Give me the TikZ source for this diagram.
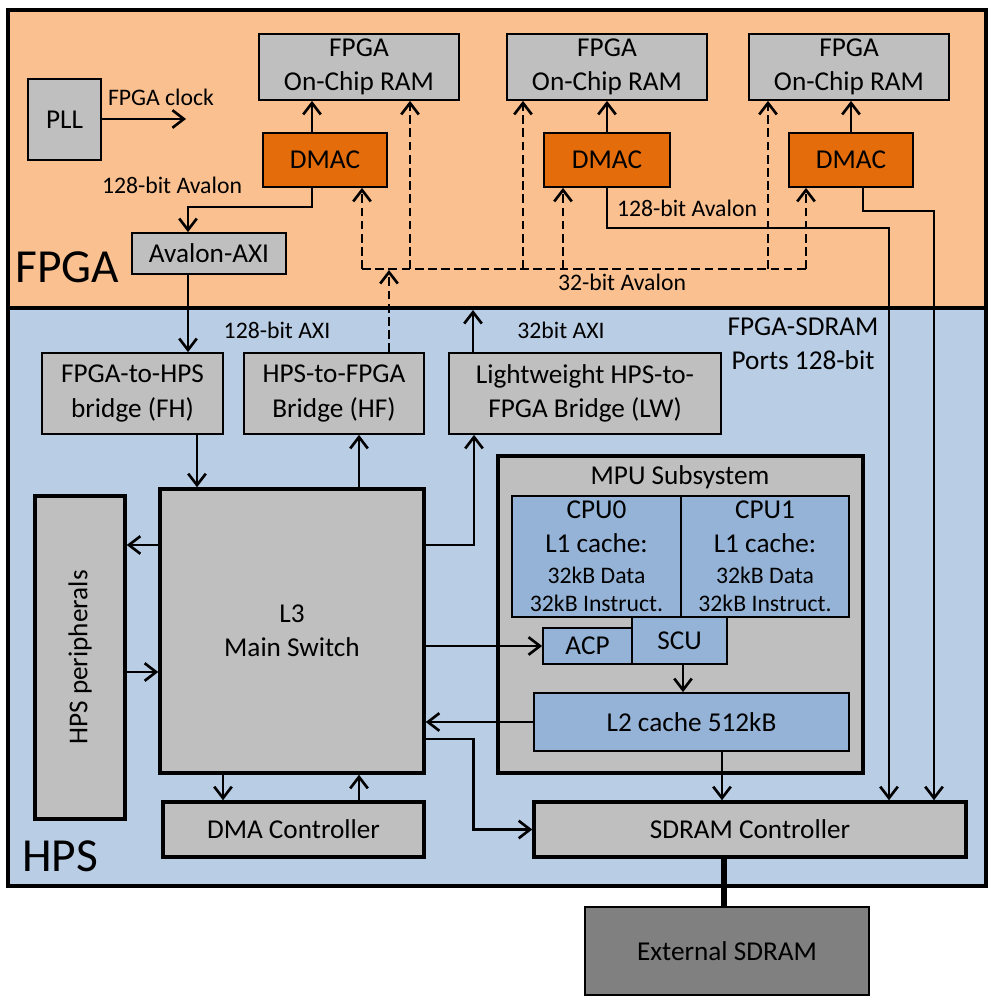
\documentclass[tikz,border=0pt]{standalone}
\usepackage{fontspec}
\setmainfont{Carlito}
\usetikzlibrary{arrows.meta}
\usetikzlibrary{calc}

\definecolor{fpgabg}{HTML}{FAC090}
\definecolor{hpsbg}{HTML}{B9CDE5}
\definecolor{boxgray}{HTML}{BFBFBF}
\definecolor{dmacorange}{HTML}{E46C0A}
\definecolor{cpublue}{HTML}{95B3D7}
\definecolor{extgray}{HTML}{808080}

\newcommand\mainf{\fontsize{15.5}{19.5}\selectfont}
\newcommand\smallf{\fontsize{13.5}{16}\selectfont}
\newcommand\bigf{\fontsize{27}{31}\selectfont}

\begin{document}
\begin{tikzpicture}[x=0.02cm, y=-0.02cm,
    box/.style 2 args={draw, line width=1pt, fill=boxgray, inner sep=0pt,
      align=center, font=\mainf,
      minimum width=#1*0.02cm, minimum height=#2*0.02cm},
    thick box/.style={line width=2pt},
    arr/.style={-{Straight Barb[length=6.5pt,width=10pt]}, line width=1.5pt},
    dash arr/.style={arr, dash pattern=on 5pt off 2.5pt},
    lbl/.style={font=\smallf, inner sep=0pt}]

    \useasboundingbox (0,0) rectangle (993,1003);

    % FPGA and HPS regions
    \fill[fpgabg] (8,10) rectangle (986,308);
    \fill[hpsbg] (8,308) rectangle (986,886);
    \draw[line width=1.8pt] (8,10) rectangle (986,886) (8,308) -- (986,308);
    \node[font=\bigf, anchor=base west, inner sep=0pt] (fpgalbl) at (15,283) {FPGA};
    \node[font=\bigf, anchor=base west, inner sep=0pt] (hpslbl) at (22,871) {HPS};

    % FPGA side
    \node[box={73}{81}] (pll) at (64.5,119.5) {PLL};
    \node[box={200}{66}] (ram1) at (359,67) {FPGA\\On-Chip RAM};
    \node[box={200}{66}] (ram2) at (607,67) {FPGA\\On-Chip RAM};
    \node[box={200}{66}] (ram3) at (849,67) {FPGA\\On-Chip RAM};
    \node[box={124}{54}, fill=dmacorange] (dmac1) at (325,160) {DMAC};
    \node[box={126}{54}, fill=dmacorange] (dmac2) at (607,160) {DMAC};
    \node[box={124}{54}, fill=dmacorange] (dmac3) at (851,160) {DMAC};
    \node[box={154}{41}] (avaxi) at (209,253.5) {Avalon-AXI};

    % HPS side
    \node[box={181}{81}] (fh) at (132.5,393.5) {FPGA-to-HPS\\bridge (FH)};
    \node[box={180}{81}] (hf) at (334,393.5) {HPS-to-FPGA\\Bridge (HF)};
    \node[box={272}{81}] (lw) at (585,393.5) {Lightweight HPS-to-\\FPGA Bridge (LW)};
    \node[box={264}{284}, thick box] (l3) at (292,631) {L3\\Main Switch};
    \node[box={90}{323}, thick box] (periph) at (80,657.5) {};
    \node[font=\mainf, rotate=90] (periphtxt) at (periph) {HPS peripherals};
    \node[box={365}{317}, thick box] (mpu) at (680.5,614.5) {};
    \node[font=\mainf, inner sep=0pt] (mpulbl) at (680,477) {MPU Subsystem};
    \node[box={169}{121}, fill=cpublue] (cpu0) at (596.5,556.5)
      {CPU0\\L1 cache:\\[-2pt]{\smallf 32kB Data}\\[-3.5pt]{\smallf 32kB Instruct.}};
    \node[box={168}{121}, fill=cpublue] (cpu1) at (765,556.5)
      {CPU1\\L1 cache:\\[-2pt]{\smallf 32kB Data}\\[-3.5pt]{\smallf 32kB Instruct.}};
    \node[box={89}{36}, fill=cpublue] (acp) at (587.5,646) {ACP};
    \node[box={95}{47}, fill=cpublue] (scu) at (679.5,640.5) {SCU};
    \node[box={315}{58}, fill=cpublue] (l2) at (691.5,722) {L2 cache 512kB};
    \node[box={261}{55}, thick box] (dma) at (293.5,829.5) {DMA Controller};
    \node[box={432}{55}, thick box] (sdram) at (750,829.5) {SDRAM Controller};
    \node[box={284}{88}, fill=extgray] (ext) at (727,951) {External SDRAM};

    % labels
    \node[lbl] (clklbl) at (161,97) {FPGA clock};
    \node[lbl] (avl1) at (172,185) {128-bit Avalon};
    \node[lbl] (avl2) at (687,208) {128-bit Avalon};
    \node[lbl] (avl32) at (622,282) {32-bit Avalon};
    \node[lbl] (axi128) at (277,330) {128-bit AXI};
    \node[lbl] (axi32) at (561,330) {32bit AXI};
    \node[font=\mainf, align=center, inner sep=0pt] (sdramports) at (803,344)
      {FPGA-SDRAM\\Ports 128-bit};

    \coordinate (clk) at (186,119);
    \coordinate (lwtop) at (473,310);

    % connectors in the FPGA
    \draw[arr] (pll.east |- clk) -- (clk);
    \draw[arr] (dmac1.north -| 312,0) -- (ram1.south -| 312,0);
    \draw[arr] (dmac2.north) -- (ram2.south);
    \draw[arr] (dmac3.north) -- (ram3.south -| dmac3.north);
    \draw[arr] (dmac1.south -| 312,0) -- ++(0,19) -| (avaxi.north -| 188,0);
    \draw[arr] (avaxi.south -| 188,0) -- (fh.north -| 188,0);
    \draw[arr] (dmac2.south) -- ++(0,40) -| (sdram.north -| 889,0);
    \draw[arr] (dmac3.south -| 863,0) -- ++(0,23) -| (sdram.north -| 934,0);

    % 32-bit Avalon bus
    \draw[dash pattern=on 5pt off 2.5pt, line width=1.5pt] (362,269) -- (806,269);
    \foreach \x/\n in {362/dmac1, 410/ram1, 523/ram2, 563/dmac2, 768/ram3, 806/dmac3}
      \draw[dash arr] (\x,269) -- (\n.south -| \x,0);
    \draw[dash arr] (hf.north -| 389,0) -- (389,270);

    % connectors in the HPS
    \draw[arr] (lw.north -| lwtop) -- (lwtop);
    \draw[arr] (fh.south -| 197,0) -- (l3.north -| 197,0);
    \draw[arr] (l3.north -| 359,0) -- (hf.south -| 359,0);
    \draw[arr] (l3.east |- 0,545) -| (lw.south -| 474,0);
    \draw[arr] (l3.west |- 0,545) -- (periph.east |- 0,545);
    \draw[arr] (periph.east |- 0,672) -- (l3.west |- 0,672);
    \draw[arr] (l3.east |- acp.west) -- (acp.west);
    \draw[arr] (scu.south -| 683,0) -- (l2.north -| 683,0);
    \draw[arr] (l2.west) -- (l2.west -| l3.east);
    \draw[arr] (l2.south -| 722,0) -- (sdram.north -| 722,0);
    \draw[arr] (l3.east |- 0,739) -- ++(48,0) |- (sdram.west);
    \draw[arr] (l3.south -| 223,0) -- (dma.north -| 223,0);
    \draw[arr] (dma.north -| 359,0) -- (l3.south -| 359,0);
    \draw[line width=3.4pt] (sdram.south -| 724,0) -- (ext.north -| 724,0);

  \end{tikzpicture}
\end{document}
